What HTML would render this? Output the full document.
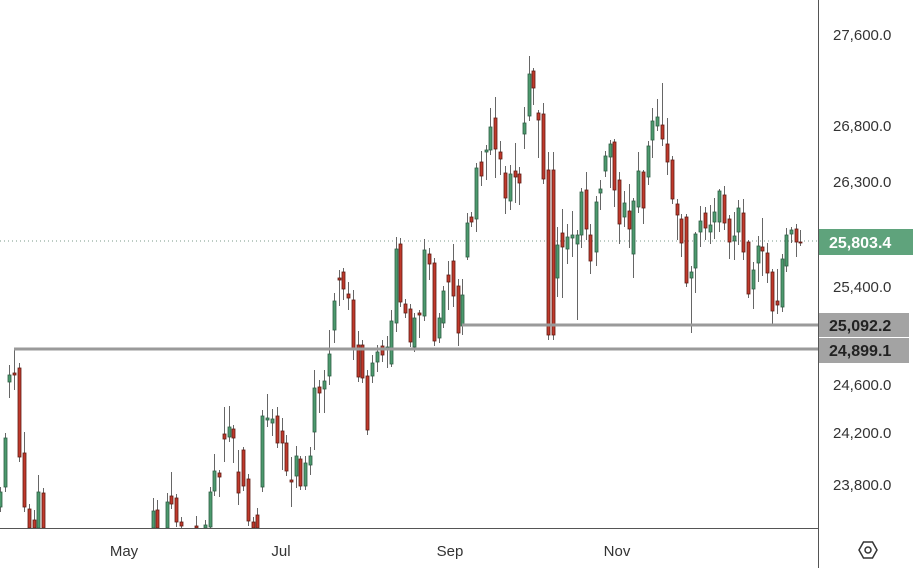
<!DOCTYPE html>
<html><head><meta charset="utf-8"><style>
body{margin:0;background:#fff;font-family:"Liberation Sans",sans-serif}
svg{display:block}
</style></head><body>
<svg id="s" width="913" height="568" xmlns="http://www.w3.org/2000/svg">
<rect width="913" height="568" fill="#fff"/>
<line x1="0" y1="241" x2="818" y2="241" stroke="#7a9a8a" stroke-width="1" stroke-dasharray="1,3"/>
<g id="c"></g>
<line x1="14" y1="349" x2="818" y2="349" stroke="#9a9a9a" stroke-width="3"/>
<line x1="462" y1="325" x2="818" y2="325" stroke="#9a9a9a" stroke-width="3"/>
<line x1="818.5" y1="0" x2="818.5" y2="568" stroke="#555" stroke-width="1"/>
<line x1="0" y1="528.5" x2="818" y2="528.5" stroke="#555" stroke-width="1"/>
<g font-size="15" fill="#333">
<text x="833" y="40">27,600.0</text>
<text x="833" y="131">26,800.0</text>
<text x="833" y="187">26,300.0</text>
<text x="833" y="292">25,400.0</text>
<text x="833" y="390">24,600.0</text>
<text x="833" y="438">24,200.0</text>
<text x="833" y="490">23,800.0</text>
</g>
<rect x="819" y="229" width="94" height="26" fill="#5fa37c"/>
<text x="829" y="248" font-size="16" font-weight="bold" fill="#fff">25,803.4</text>
<rect x="819" y="313" width="90" height="24" fill="#a3a3a3"/>
<text x="829" y="331" font-size="16" font-weight="bold" fill="#222">25,092.2</text>
<rect x="819" y="338" width="90" height="25" fill="#a3a3a3"/>
<text x="829" y="356" font-size="16" font-weight="bold" fill="#222">24,899.1</text>
<g font-size="15" fill="#333" text-anchor="middle">
<text x="124" y="556">May</text>
<text x="281" y="556">Jul</text>
<text x="450" y="556">Sep</text>
<text x="617" y="556">Nov</text>
</g>
<g transform="translate(868,550)" fill="none" stroke="#333" stroke-width="1.5">
<polygon points="-9,0 -4.5,-8 4.5,-8 9,0 4.5,8 -4.5,8"/>
<circle r="3"/>
</g>
</svg>
<script>
var G=1,R=0;
var d=[
[0,492,507,G],[5,438,487,G],[9,375,382,G,365,398],[14,373,375,R,348,390],[19,368,457,R],[24,453,507,R,432],[29,509,528,R],[34,520,528,R,510],[38,492,528,G,475],[43,493,528,R],
[153,511,528,G,498],[157,510,528,R,500],[167,502,528,G,493],[171,496,504,R,472],[176,498,522,R,494],[181,522,526,R],[196,526,528,R,516],
[205,525,528,G],[210,492,527,G,487],[214,471,491,G,454],[219,473,477,R,470,497],[224,434,439,R,407,462],[229,427,437,G,406],[233,429,438,R,425,463],
[238,472,493,R,450,505],[243,450,486,R,447],[248,479,521,R],[253,522,528,R],[257,515,528,R,508],[262,416,487,G,410],[267,418,420,G,394,427],[272,419,423,G,409,436],
[277,416,443,R,407],[282,431,443,R,418,470],[286,443,471,R,435],[291,480,482,R,457,507],[296,456,476,G,446,488],[300,459,486,R,456,490],[305,463,486,G,456,490],
[310,456,465,G,447,475],[314,388,432,G,370,450],[319,387,393,R,380,413],[324,381,389,G,370,413],[329,354,376,G,330,385],[334,301,330,G,293,343],[339,278,280,R,270,306],
[343,272,289,R,268,300],[348,294,298,R,282,310],[353,300,350,R,290,360],[358,345,377,R,331],[362,345,378,R,340],[367,376,430,R,370,435],
[372,363,376,G,355,383],[377,352,362,G,345,372],[382,346,355,R,340,362],[387,347,349,G,336,368],[391,321,364,G,310,367],[396,249,323,G,237,332],
[400,244,302,R,238],[405,304,313,R],[410,309,342,R],[414,318,347,G],[419,313,315,R,310,338],[424,250,316,G,239],[429,254,264,R,248,280],[434,263,341,R],[439,318,338,G],
[443,291,323,G],[448,275,282,R,261,310],[453,261,296,R,244,307],[458,286,333,R,279,346],[462,295,326,G,279,335],[467,223,257,G,213,260],[471,217,222,R],[476,168,219,G,163,232],
[481,162,176,R,151,186],[486,150,152,G,145,180],[490,127,150,G,108],[495,118,149,R,97,178],[500,152,159,R,141,175],[505,173,198,R,166,214],[510,174,201,G,165,210],
[515,171,177,R,143,203],[519,174,183,R,167,205],[524,123,134,G,107,149],[529,74,116,G,56],[533,71,88,R,68,105],[538,113,120,R,110,158],[543,114,179,R,103],
[548,170,335,R,152],[553,170,335,R,152],[557,245,278,G,227,297],[562,233,247,R,209,298],[567,237,249,G,224,264],[572,235,238,G,211,257],[577,235,244,G,230,320],
[581,192,235,G,188,248],[586,190,229,R,172,240],[590,235,261,R,224,274],[596,202,252,G,196,266],[600,189,193,G,180,210],[605,156,171,G,151,177],[610,144,157,G,140,188],
[614,142,190,R,139,207],[619,180,224,R,172,244],[624,203,217,G,191,227],[629,211,229,R,184,248],[633,201,254,G,198,278],[638,171,207,G,152,213],[643,172,208,R,170,224],
[648,146,177,G,141,185],[652,121,140,G,108,158],[657,117,126,G,99,131],[662,125,139,R,83,146],[667,144,162,R,118,175],[672,160,199,R,156],[677,204,215,R,199,240],
[681,219,243,R,214,257],[686,217,283,R,214,287],[691,272,278,G,266,333],[695,234,268,G,232,293],[700,221,232,G,206,247],[705,213,228,R,207,240],[710,225,232,G,205,244],
[714,212,222,G,198,239],[719,191,222,G,189,232],[724,195,223,R,186,230],[729,219,242,R,215,259],[734,236,241,G,212,260],[738,208,232,G,200,245],[743,213,252,R,199,260],
[748,242,294,R,240,298],[753,270,289,G,262,309],[758,246,263,G,236,282],[762,247,251,R,218,276],[767,253,273,R,243,283],[772,272,311,R,269,326],[777,301,305,R,269,314],
[782,259,307,G,254,312],[786,235,266,G,228,272],[791,230,234,G,227,243],[796,229,242,R,224,257],[800,242,243,R,230,246]
];
var g=document.getElementById('c'),ns='http://www.w3.org/2000/svg',h='';
d.forEach(function(c){var x=c[0],t=c[1],b=c[2],gr=c[3],wt=c.length>4?c[4]:t-5,wb=c.length>5?c[5]:b+5;
if(wb>528)wb=528;if(b>528)b=528;
var f=gr?'#4c9a6e':'#c0392b',s=gr?'#2e5e44':'#5e1c15';
h+='<line x1="'+(x+.5)+'" y1="'+wt+'" x2="'+(x+.5)+'" y2="'+wb+'" stroke="#666" stroke-width="1"/>';
h+='<rect x="'+(x-1)+'" y="'+t+'" width="3" height="'+Math.max(1,b-t)+'" fill="'+f+'" stroke="'+s+'" stroke-width="0.8"/>';});
g.innerHTML=h;
</script>
</body></html>
